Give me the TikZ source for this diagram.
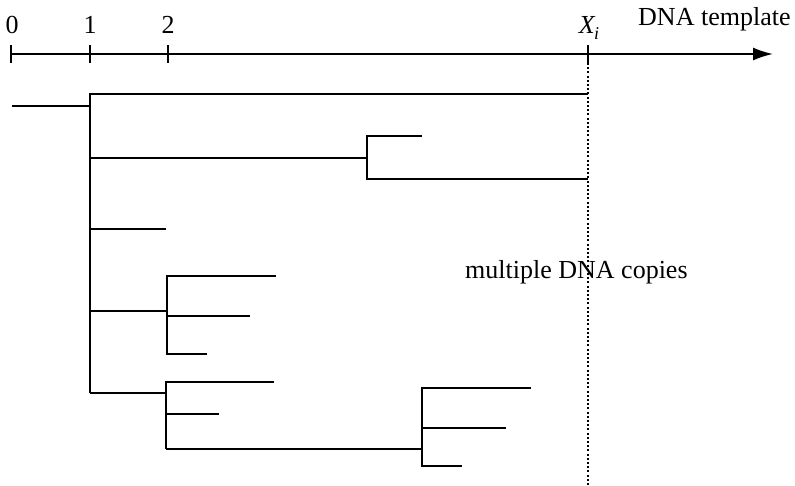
\documentclass[tikz,border=0pt]{standalone}
\usepackage{fontspec}
\setmainfont{Liberation Serif}
\usetikzlibrary{arrows.meta}
\begin{document}
\begin{tikzpicture}[x=1pt,y=-1pt,
  branch/.style={line width=2pt, line join=miter, line cap=butt},
  axisline/.style={line width=1.8pt},
  tickmark/.style={line width=1.8pt},
  guide/.style={line width=1.8pt, dash pattern=on 2pt off 2.2pt},
  lbl/.style={font=\fontsize{26}{30}\selectfont, inner sep=0pt}]
\useasboundingbox (0,0) rectangle (795,485);

% ---- time axis (DNA template) ----
\coordinate (a0) at (11,54);
\coordinate (a1) at (90,54);
\coordinate (a2) at (168,54);
\coordinate (ax) at (588,54);
\coordinate (aend) at (773,54);
\draw[axisline, -{Latex[length=20pt,width=13pt]}] (a0) -- (aend);
\foreach \t in {a0,a1,a2,ax}
  \draw[tickmark] ([yshift=9pt]\t) -- ([yshift=-9pt]\t);

\node[lbl, anchor=base] (l0) at (12,33) {0};
\node[lbl, anchor=base] (l1) at (90,33) {1};
\node[lbl, anchor=base] (l2) at (168,33) {2};
\node[lbl, anchor=base] (lx) at (589,33) {\itshape X\kern-0.5pt\raisebox{-6pt}{\fontsize{18}{18}\selectfont i}};
\node[lbl, anchor=base west] (tmpl) at (638,25) {DNA template};

% ---- dotted boundary at X_i ----
\coordinate (xb) at (588,485);
\draw[guide] ([yshift=-9pt]ax) -- (xb);

\node[lbl, anchor=base west] (copies) at (465,278) {multiple DNA copies};

% ---- replication tree ----
\coordinate (r0) at (12,106);
\coordinate (r1) at (90,106);
\coordinate (sTop) at (90,94);
\coordinate (sBot) at (90,393);
\draw[branch] (r0) -- (r1);

% top copy reaching X_i
\coordinate (c1) at (588,94);
\draw[branch] (c1) -- (sTop) -- (sBot);

% second branch
\coordinate (b2) at (90,158);
\coordinate (n2) at (367,158);
\coordinate (n2a) at (367,136);
\coordinate (n2b) at (367,179);
\coordinate (e2a) at (422,136);
\coordinate (e2b) at (588,179);
\draw[branch] (b2) -- (n2);
\draw[branch] (e2a) -- (n2a) -- (n2b) -- (e2b);

% third branch
\coordinate (b3) at (90,229);
\coordinate (e3) at (166,229);
\draw[branch] (b3) -- (e3);

% fourth branch
\coordinate (b4) at (90,311);
\coordinate (n4) at (167,311);
\coordinate (n4a) at (167,276);
\coordinate (n4m) at (167,316);
\coordinate (n4b) at (167,354);
\coordinate (e4a) at (276,276);
\coordinate (e4m) at (250,316);
\coordinate (e4b) at (207,354);
\draw[branch] (b4) -- (n4);
\draw[branch] (e4a) -- (n4a) -- (n4b) -- (e4b);
\draw[branch] (n4m) -- (e4m);

% fifth branch
\coordinate (n5) at (166,393);
\coordinate (n5a) at (166,382);
\coordinate (n5m) at (166,414);
\coordinate (n5b) at (166,449);
\coordinate (e5a) at (274,382);
\coordinate (e5m) at (219,414);
\draw[branch] (sBot) -- (n5);
\draw[branch] (e5a) -- (n5a) -- (n5b);
\draw[branch] (n5m) -- (e5m);

% sub-branch of the fifth
\coordinate (n6) at (422,449);
\coordinate (n6a) at (422,388);
\coordinate (n6m) at (422,428);
\coordinate (n6b) at (422,466);
\coordinate (e6a) at (531,388);
\coordinate (e6m) at (506,428);
\coordinate (e6b) at (462,466);
\draw[branch] (n5b) -- (n6);
\draw[branch] (e6a) -- (n6a) -- (n6b) -- (e6b);
\draw[branch] (n6m) -- (e6m);
\end{tikzpicture}
\end{document}
